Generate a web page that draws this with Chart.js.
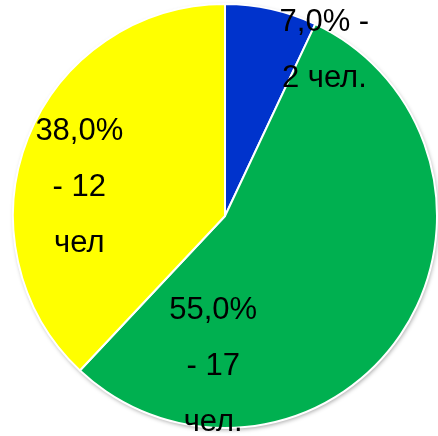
<!DOCTYPE html>
<html>
<head>
<meta charset="utf-8">
<script src="https://cdn.jsdelivr.net/npm/chart.js@4/dist/chart.umd.min.js"></script>
<style>
  html, body { margin: 0; padding: 0; background: #fff; }
  #wrap { width: 438px; height: 436px; }
</style>
</head>
<body>
<div id="wrap"><canvas id="pieChart"></canvas></div>
<script>
// Данные диаграммы
const percents = [7.0, 55.0, 38.0];
const counts = [2, 17, 12];
const labelLines = [
    ['7,0% -', '2 чел.'],
    ['55,0%', '- 17', 'чел.'],
    ['38,0%', '- 12', 'чел']
];
const colors = ['#0033CC', '#00B050', '#FFFF00'];

// где стоит подпись: угол от верха по часовой (град.) и доля радиуса
const labelAngle = [31, 184.5, 281];
const labelRadius = [0.91, 0.71, 0.70];

// подписи поверх секторов
const sliceLabels = {
    id: 'sliceLabels',
    afterDatasetsDraw(chart) {
        const ctx = chart.ctx;
        const arcs = chart.getDatasetMeta(0).data;
        ctx.save();
        ctx.fillStyle = '#000';
        ctx.font = '31px "Liberation Sans", Arial, sans-serif';
        ctx.textAlign = 'center';
        ctx.textBaseline = 'middle';
        arcs.forEach((arc, i) => {
            const a = (labelAngle[i] - 90) * Math.PI / 180;
            const r = arc.outerRadius * labelRadius[i];
            const cx = arc.x + Math.cos(a) * r;
            const cy = arc.y + Math.sin(a) * r;
            const lines = labelLines[i];
            const step = 56;
            const y0 = cy - (lines.length - 1) * step / 2;
            lines.forEach((t, k) => ctx.fillText(t, cx, y0 + k * step));
        });
        ctx.restore();
    }
};

// лёгкая тень по краю круга
const pieShadow = {
    id: 'pieShadow',
    beforeDatasetsDraw(chart) {
        const arc = chart.getDatasetMeta(0).data[0];
        const ctx = chart.ctx;
        ctx.save();
        ctx.shadowColor = 'rgba(0,0,0,0.35)';
        ctx.shadowBlur = 4;
        ctx.shadowOffsetX = 1;
        ctx.shadowOffsetY = 2;
        ctx.fillStyle = '#fff';
        ctx.beginPath();
        ctx.arc(arc.x, arc.y, arc.outerRadius, 0, Math.PI * 2);
        ctx.fill();
        ctx.restore();
    }
};

const pieCtx = document.getElementById('pieChart').getContext('2d');
new Chart(pieCtx, {
    type: 'pie',
    data: {
        labels: labelLines.map(l => l.join(' ')),
        datasets: [{
            data: percents,
            backgroundColor: colors,
            borderColor: '#fff',
            borderWidth: 2
        }]
    },
    options: {
        responsive: true,
        maintainAspectRatio: false,
        animation: false,
        layout: { padding: { left: 12, right: 0, top: 2, bottom: 6 } },
        plugins: {
            legend: { display: false },
            tooltip: { enabled: false }
        }
    },
    plugins: [pieShadow, sliceLabels]
});
</script>
</body>
</html>
